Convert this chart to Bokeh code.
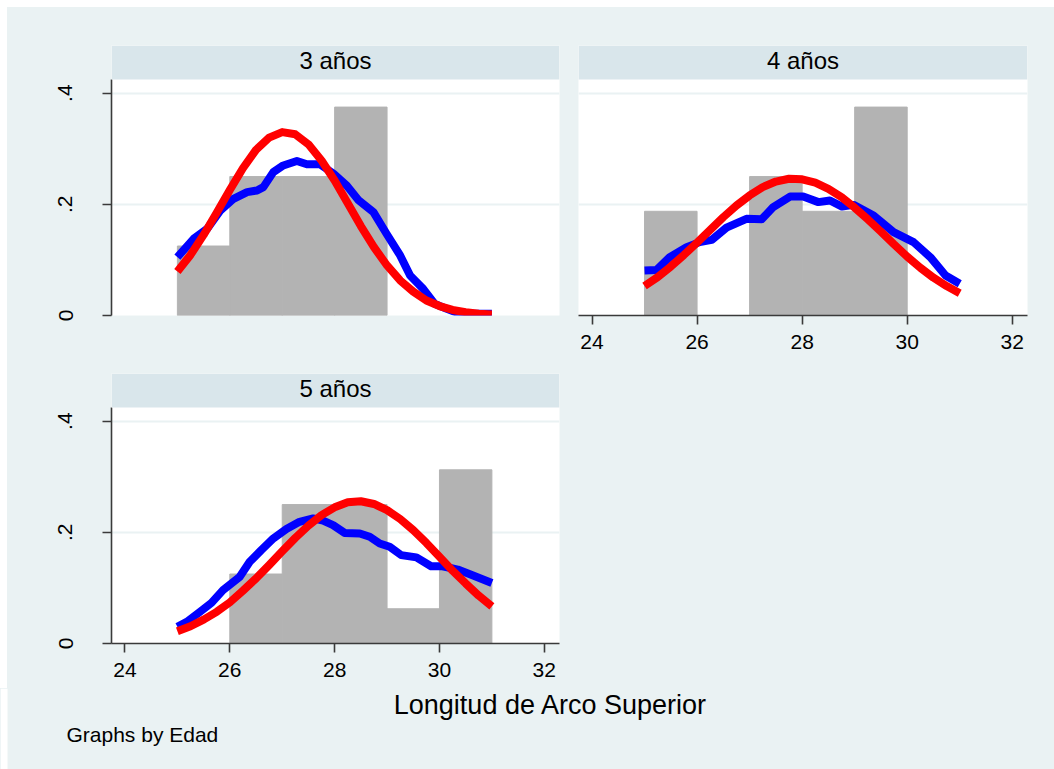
from bokeh.plotting import figure
from bokeh.models import BoxAnnotation, Label, FixedTicker, Range1d, Spacer
from bokeh.layouts import column, row
from bokeh.embed import file_html
from bokeh.resources import INLINE

# ---------------- data ----------------
panel_titles = ["3 años", "4 años", "5 años"]
bin_left = [25, 26, 27, 28, 29, 30]
bin_right = [26, 27, 28, 29, 30, 31]
dens_3 = [0.125, 0.25, 0.25, 0.375, 0.0, 0.0]
dens_4 = [0.1875, 0.0, 0.25, 0.1875, 0.375, 0.0]
dens_5 = [0.0, 0.125, 0.25, 0.25, 0.0625, 0.3125]

kd3_x = [25.0, 25.31, 25.57, 25.82, 26.07, 26.33, 26.52, 26.64, 26.83, 27.02, 27.28, 27.47, 27.72,
         27.98, 28.23, 28.46, 28.74, 28.99, 29.25, 29.44, 29.69, 29.91, 30.14, 30.39, 31.0]
kd3_y = [0.105, 0.138, 0.156, 0.189, 0.210, 0.222, 0.225, 0.231, 0.258, 0.270, 0.278, 0.272, 0.272,
         0.255, 0.234, 0.207, 0.186, 0.147, 0.108, 0.072, 0.048, 0.021, 0.012, 0.003, 0.003]

kd4_x = [25.0, 25.23, 25.48, 25.80, 26.05, 26.28, 26.56, 26.94, 27.23, 27.45, 27.77, 28.02, 28.31,
         28.53, 28.76, 28.98, 29.36, 29.74, 30.12, 30.44, 30.73, 31.0]
kd4_y = [0.081, 0.082, 0.105, 0.123, 0.132, 0.136, 0.158, 0.174, 0.173, 0.195, 0.214, 0.214, 0.204,
         0.207, 0.196, 0.199, 0.180, 0.150, 0.132, 0.105, 0.072, 0.057]

kd5_x = [25.0, 25.18, 25.43, 25.65, 25.87, 26.19, 26.38, 26.60, 26.83, 27.08, 27.33, 27.59, 27.78,
         27.97, 28.19, 28.48, 28.67, 28.86, 29.05, 29.27, 29.56, 29.84, 30.06, 30.35, 30.63, 31.0]
kd5_y = [0.030, 0.039, 0.057, 0.073, 0.096, 0.120, 0.147, 0.168, 0.189, 0.206, 0.219, 0.225, 0.221,
         0.213, 0.199, 0.198, 0.192, 0.180, 0.174, 0.159, 0.155, 0.139, 0.139, 0.133, 0.123, 0.109]

norm_x = [25.0, 25.25, 25.5, 25.75, 26.0, 26.25, 26.5, 26.75, 27.0, 27.25, 27.5, 27.75, 28.0,
          28.25, 28.5, 28.75, 29.0, 29.25, 29.5, 29.75, 30.0, 30.25, 30.5, 30.75, 31.0]
norm3_y = [0.079, 0.109, 0.145, 0.185, 0.226, 0.265, 0.298, 0.320, 0.330, 0.326, 0.308, 0.279, 0.243,
           0.202, 0.161, 0.123, 0.090, 0.063, 0.043, 0.027, 0.017, 0.010, 0.006, 0.003, 0.002]
norm4_y = [0.053, 0.069, 0.088, 0.109, 0.131, 0.154, 0.177, 0.198, 0.216, 0.231, 0.241, 0.246, 0.245,
           0.239, 0.228, 0.213, 0.194, 0.173, 0.151, 0.128, 0.106, 0.086, 0.068, 0.053, 0.040]
norm5_y = [0.022, 0.031, 0.043, 0.057, 0.074, 0.095, 0.117, 0.141, 0.166, 0.190, 0.212, 0.231, 0.245,
           0.254, 0.256, 0.251, 0.240, 0.224, 0.204, 0.181, 0.156, 0.131, 0.108, 0.086, 0.067]

x_ticks = [24, 26, 28, 30, 32]
y_ticks = [0, 0.2, 0.4]
y_tick_labels = ["0", ".2", ".4"]
x_title = "Longitud de Arco Superior"
note = "Graphs by Edad"

# ---------------- style ----------------
BG = "#eaf2f3"
HDR = "#d9e6eb"
BAR = "#b3b3b3"
AXC = "#3a3a3a"
FONT = "Liberation Sans"
X0, X1 = 23.743, 32.29
Y1 = 0.4858
PLOT_TOP = 0.4247


def style_axis(ax, ticks, vertical=False):
    ax.ticker = FixedTicker(ticks=ticks)
    ax.axis_line_color = AXC
    ax.axis_line_width = 1.6
    ax.major_tick_line_color = AXC
    ax.major_tick_line_width = 1.6
    ax.major_tick_out = 9
    ax.major_tick_in = 0
    ax.minor_tick_line_color = None
    ax.major_label_text_font = FONT
    ax.major_label_text_font_size = "21px"
    ax.major_label_text_color = "black"
    if vertical:
        ax.major_label_orientation = "vertical"
        ax.major_label_standoff = 30
        ax.major_label_overrides = {t: l for t, l in zip(y_ticks, y_tick_labels)}
        ax.bounds = (0, PLOT_TOP)
    else:
        ax.major_label_standoff = 10


def make_panel(title, dens, kx, ky, ny, width, height, left, right, top, bottom, show_x, show_y):
    p = figure(width=width, height=height, x_range=Range1d(X0, X1), y_range=Range1d(0, Y1),
               output_backend="svg", toolbar_location=None,
               x_axis_location="below" if show_x else None,
               y_axis_location="left" if show_y else None,
               min_border_left=left, min_border_right=right,
               min_border_top=top, min_border_bottom=bottom,
               background_fill_color="white", border_fill_color=BG,
               outline_line_color=None)
    p.xgrid.visible = False
    p.ygrid.ticker = FixedTicker(ticks=[0.2, 0.4])
    p.ygrid.grid_line_color = BG
    p.ygrid.grid_line_width = 2
    if show_x:
        style_axis(p.xaxis[0], x_ticks)
    if show_y:
        style_axis(p.yaxis[0], y_ticks, vertical=True)

    L = [l for l, d in zip(bin_left, dens) if d > 0]
    R = [r for r, d in zip(bin_right, dens) if d > 0]
    T = [d for d in dens if d > 0]
    p.quad(left=L, right=R, bottom=0, top=T, fill_color=BAR, line_color=BAR, line_width=1)
    p.line(kx, ky, line_color="#0000ff", line_width=8, line_join="round")
    p.line(norm_x, ny, line_color="#ff0000", line_width=8, line_join="round")

    p.add_layout(BoxAnnotation(bottom=PLOT_TOP, fill_color=HDR, fill_alpha=1.0, line_color=None))
    p.add_layout(Label(x=(X0 + X1) / 2, y=0.458, text=title, text_align="center",
                       text_baseline="middle", text_font=FONT, text_font_size="24px",
                       text_color="black"))
    return p


p1 = make_panel(panel_titles[0], dens_3, kd3_x, kd3_y, norm3_y,
                571, 361, 104, 19, 38, 53, False, True)
p2 = make_panel(panel_titles[1], dens_4, kd4_x, kd4_y, norm4_y,
                476, 361, 0, 27, 38, 53, True, False)
p3 = make_panel(panel_titles[2], dens_5, kd5_x, kd5_y, norm5_y,
                1047, 320, 104, 495, 5, 45, True, True)

# bottom strip for the shared axis title and the note (pixel-like ranges, full page width)
p4 = figure(width=1054, height=81, x_range=Range1d(0, 1054), y_range=Range1d(81, 0),
            output_backend="svg", toolbar_location=None,
            x_axis_location=None, y_axis_location=None,
            min_border_left=0, min_border_right=0, min_border_top=0, min_border_bottom=0,
            background_fill_color=BG, border_fill_color=BG, outline_line_color=None)
p4.xgrid.visible = False
p4.ygrid.visible = False
p4.add_layout(BoxAnnotation(right=7, fill_color="white", fill_alpha=1.0, line_color=None))
p4.add_layout(Label(x=393.3, y=16.5, text=x_title, text_align="left",
                    text_baseline="middle", text_font=FONT, text_font_size="27px",
                    text_color="black"))
p4.add_layout(Label(x=66, y=46.2, text=note, text_align="left",
                    text_baseline="middle", text_font=FONT, text_font_size="21px",
                    text_color="black"))

WHITE = {"background-color": "white"}
inner = column(row(p1, p2, styles={"background-color": BG}), p3,
               styles={"background-color": BG})
layout = column(Spacer(width=1054, height=7, styles=WHITE),
                row(Spacer(width=7, height=681, styles=WHITE), inner,
                    styles={"background-color": BG}),
                p4, styles={"background-color": BG})
open("out.html", "w").write(file_html(layout, INLINE))
